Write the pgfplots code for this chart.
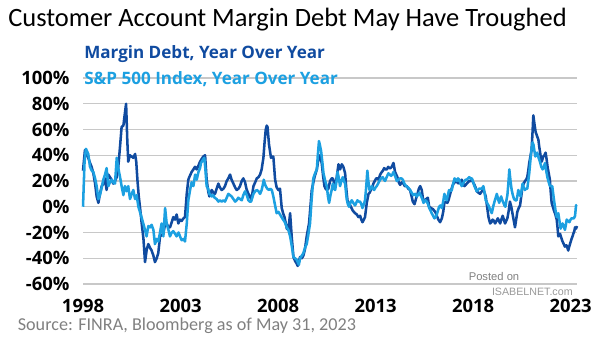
\documentclass[border=0pt]{standalone}
\usepackage{pgfplots}
\pgfplotsset{compat=1.18}
\usepackage{pgfplotstable}
\usepackage{fontspec}
\setmainfont{Carlito}
\newfontfamily\osans{Open Sans}
\newfontfamily\lsans{Liberation Sans}
\definecolor{darkb}{RGB}{16,75,160}
\definecolor{lightb}{RGB}{28,160,225}
\definecolor{gridc}{RGB}{200,200,200}
\definecolor{srcgray}{RGB}{128,128,128}

\pgfplotstableread{
x y
1998.00 28
1998.10 44
1998.20 40
1998.27 38
1998.36 34
1998.44 31
1998.53 26
1998.62 18
1998.70 8
1998.79 3
1998.87 10
1998.96 16
1999.05 18
1999.13 22
1999.21 13
1999.30 25
1999.38 23
1999.47 21
1999.55 18
1999.64 20
1999.73 23
1999.81 31
1999.90 47
1999.98 62
2000.07 63
2000.15 73
2000.21 80
2000.27 52
2000.32 35
2000.40 40
2000.50 39
2000.58 38
2000.67 41
2000.73 35
2000.79 21
2000.86 8
2000.92 0
2001.01 -13
2001.10 -25
2001.18 -43
2001.27 -33
2001.35 -29
2001.44 -32
2001.52 -34
2001.61 -38
2001.69 -43
2001.78 -40
2001.86 -36
2001.95 -23
2002.04 -22
2002.12 -21
2002.21 -13
2002.29 -13
2002.38 -16
2002.46 -16
2002.55 -12
2002.63 -8
2002.72 -10
2002.80 -6
2002.89 -13
2002.97 -10
2003.06 -11
2003.15 -9
2003.23 -8
2003.32 10
2003.40 21
2003.45 23
2003.57 27
2003.66 29
2003.74 31
2003.83 29
2003.92 32
2004.00 35
2004.08 37
2004.17 39
2004.26 40
2004.34 21
2004.42 12
2004.48 8
2004.60 13
2004.68 11
2004.77 10
2004.85 14
2004.94 18
2005.02 15
2005.11 13
2005.20 14
2005.28 16
2005.37 20
2005.45 22
2005.54 25
2005.62 21
2005.71 18
2005.80 15
2005.88 13
2005.97 14
2006.05 16
2006.14 20
2006.22 22
2006.31 19
2006.38 14
2006.48 10
2006.55 8
2006.62 6
2006.68 10
2006.74 16
2006.83 19
2006.91 22
2007.00 23
2007.08 25
2007.16 29
2007.25 38
2007.31 50
2007.37 60
2007.42 63
2007.46 62
2007.54 48
2007.60 42
2007.64 38
2007.70 39
2007.76 39
2007.85 21
2007.93 15
2008.02 13
2008.10 14
2008.19 -1
2008.26 -5
2008.33 -8
2008.40 -13
2008.45 -17
2008.53 -18
2008.62 -5
2008.70 -23
2008.79 -39
2008.87 -42
2008.95 -44
2009.01 -46
2009.08 -42
2009.13 -39
2009.22 -40
2009.30 -38
2009.38 -33
2009.47 -23
2009.53 -18
2009.59 -13
2009.66 0
2009.73 13
2009.80 18
2009.87 23
2009.93 26
2009.99 29
2010.05 35
2010.11 40
2010.17 38
2010.24 34
2010.31 24
2010.38 16
2010.44 14
2010.50 13
2010.58 14
2010.67 20
2010.75 22
2010.81 22
2010.87 19
2010.93 16
2011.01 23
2011.10 33
2011.18 29
2011.27 33
2011.35 31
2011.44 26
2011.50 14
2011.56 5
2011.63 3
2011.70 1
2011.77 -1
2011.83 -3
2011.89 -4
2011.95 -5
2012.04 -6
2012.12 -8
2012.21 -7
2012.27 -10
2012.33 -12
2012.40 -10
2012.46 -8
2012.55 3
2012.64 10
2012.70 11
2012.76 13
2012.83 15
2012.89 18
2012.96 20
2013.03 22
2013.09 22
2013.15 21
2013.24 25
2013.32 27
2013.38 28
2013.44 30
2013.51 29
2013.58 29
2013.65 31
2013.71 30
2013.77 30
2013.83 31
2013.92 34
2014.00 27
2014.06 25
2014.12 23
2014.19 19
2014.26 17
2014.35 19
2014.43 18
2014.50 16
2014.60 16
2014.68 14
2014.77 13
2014.85 8
2014.91 4
2015.00 2
2015.07 6
2015.15 10
2015.22 14
2015.29 16
2015.37 13
2015.45 4
2015.51 5
2015.60 6
2015.68 7
2015.75 0
2015.85 -1
2015.95 -2
2016.06 -4
2016.14 -7
2016.22 -10
2016.31 -12
2016.40 -9
2016.47 -4
2016.53 3
2016.60 4
2016.68 3
2016.74 5
2016.81 9
2016.88 13
2016.94 16
2017.00 18
2017.06 19
2017.12 20
2017.19 19
2017.25 18
2017.33 19
2017.42 21
2017.49 18
2017.56 16
2017.62 17
2017.68 18
2017.74 19
2017.80 20
2017.87 20
2017.94 21
2018.00 19
2018.07 17
2018.13 15
2018.19 12
2018.27 11
2018.36 10
2018.45 12
2018.53 13
2018.59 11
2018.65 8
2018.72 0
2018.79 -8
2018.84 -11
2018.88 -13
2018.94 -12
2019.00 -10
2019.07 -11
2019.13 -13
2019.20 -11
2019.27 -9
2019.33 -11
2019.39 -13
2019.45 -10
2019.52 -7
2019.58 -10
2019.64 -13
2019.70 -11
2019.76 -9
2019.83 -3
2019.89 4
2019.96 0
2020.03 -6
2020.09 -11
2020.15 -16
2020.21 -10
2020.27 -4
2020.34 -1
2020.41 1
2020.47 8
2020.54 16
2020.60 18
2020.66 20
2020.72 21
2020.78 23
2020.83 28
2020.88 34
2020.94 39
2021.00 44
2021.05 58
2021.09 71
2021.15 64
2021.21 58
2021.28 55
2021.35 52
2021.39 47
2021.43 43
2021.48 38
2021.52 35
2021.56 37
2021.60 39
2021.66 40
2021.72 42
2021.77 37
2021.82 31
2021.88 26
2021.94 21
2021.98 12
2022.03 3
2022.09 0
2022.15 -3
2022.22 -6
2022.29 -10
2022.33 -16
2022.37 -23
2022.42 -22
2022.46 -21
2022.52 -24
2022.59 -27
2022.65 -29
2022.71 -31
2022.76 -30
2022.80 -30
2022.84 -32
2022.88 -34
2022.93 -31
2022.97 -29
2023.01 -27
2023.05 -25
2023.10 -23
2023.14 -21
2023.19 -19
2023.23 -16
2023.28 -17
2023.33 -15
}\margindebt

\pgfplotstableread{
x y
1998.00 0
1998.08 35
1998.15 45
1998.21 43
1998.27 41
1998.36 31
1998.45 28
1998.53 27
1998.62 22
1998.70 16
1998.79 6
1998.87 9
1998.96 15
1999.04 21
1999.13 25
1999.21 30
1999.30 16
1999.38 19
1999.47 21
1999.55 19
1999.64 18
1999.73 38
1999.81 30
1999.90 23
1999.98 16
2000.07 9
2000.15 16
2000.24 12
2000.32 16
2000.41 6
2000.50 10
2000.58 13
2000.67 6
2000.75 9
2000.84 0
2000.92 -4
2001.00 -8
2001.09 -13
2001.18 -18
2001.26 -23
2001.35 -15
2001.44 -16
2001.52 -14
2001.61 -18
2001.69 -29
2001.78 -25
2001.86 -27
2001.95 -20
2002.03 -13
2002.12 -23
2002.21 -1
2002.29 -13
2002.38 -18
2002.46 -23
2002.55 -20
2002.63 -19
2002.72 -21
2002.80 -23
2002.90 -20
2003.00 -24
2003.06 -26
2003.15 -25
2003.23 -27
2003.32 -13
2003.40 5
2003.49 13
2003.57 19
2003.66 16
2003.75 25
2003.83 21
2003.92 27
2004.00 30
2004.05 34
2004.13 36
2004.22 38
2004.27 30
2004.34 16
2004.42 14
2004.48 10
2004.55 9
2004.60 8
2004.68 9
2004.75 7
2004.85 6
2004.94 4
2005.02 5
2005.11 4
2005.20 5
2005.28 4
2005.37 7
2005.45 10
2005.54 9
2005.62 8
2005.71 6
2005.80 4
2005.88 5
2005.96 7
2006.05 6
2006.14 5
2006.22 9
2006.31 12
2006.40 9
2006.48 5
2006.55 4
2006.62 4
2006.68 7
2006.74 10
2006.83 12
2006.91 13
2007.00 12
2007.08 10
2007.16 13
2007.22 17
2007.27 21
2007.32 18
2007.37 16
2007.45 14
2007.54 13
2007.60 14
2007.68 13
2007.76 8
2007.85 1
2007.93 -5
2008.02 -4
2008.10 -6
2008.18 -8
2008.26 -10
2008.35 -12
2008.45 -16
2008.53 -18
2008.62 -23
2008.70 -30
2008.79 -39
2008.87 -40
2008.95 -41
2009.01 -43
2009.07 -45
2009.13 -40
2009.22 -38
2009.30 -36
2009.38 -32
2009.47 -29
2009.55 -22
2009.64 -13
2009.72 5
2009.81 22
2009.90 26
2009.99 29
2010.04 40
2010.10 51
2010.16 47
2010.21 43
2010.27 35
2010.33 26
2010.42 20
2010.50 16
2010.56 8
2010.62 3
2010.69 9
2010.75 13
2010.81 18
2010.87 14
2010.93 13
2011.00 20
2011.05 27
2011.12 22
2011.18 16
2011.25 20
2011.32 23
2011.38 20
2011.44 18
2011.52 6
2011.58 2
2011.64 0
2011.71 3
2011.78 5
2011.86 3
2011.95 1
2012.01 3
2012.07 5
2012.14 4
2012.21 4
2012.27 2
2012.33 -1
2012.40 2
2012.46 5
2012.52 15
2012.58 28
2012.63 20
2012.69 13
2012.75 14
2012.81 16
2012.87 14
2012.93 13
2013.00 15
2013.06 16
2013.13 18
2013.20 20
2013.28 22
2013.37 23
2013.43 21
2013.49 20
2013.57 23
2013.66 26
2013.73 25
2013.80 24
2013.86 25
2013.92 27
2014.00 24
2014.09 20
2014.17 21
2014.26 22
2014.33 22
2014.40 21
2014.48 18
2014.57 16
2014.67 15
2014.77 13
2014.85 11
2014.94 9
2015.03 10
2015.11 8
2015.17 9
2015.25 11
2015.34 8
2015.40 6
2015.46 3
2015.55 5
2015.63 4
2015.69 2
2015.75 -1
2015.82 -3
2015.88 -5
2015.95 -7
2016.02 -9
2016.08 -8
2016.14 -6
2016.20 -3
2016.26 0
2016.33 1
2016.40 -1
2016.47 4
2016.53 10
2016.59 7
2016.65 5
2016.71 9
2016.77 13
2016.84 12
2016.91 13
2016.98 18
2017.05 22
2017.11 21
2017.17 20
2017.23 22
2017.29 21
2017.36 18
2017.42 16
2017.49 18
2017.56 20
2017.62 21
2017.68 21
2017.74 22
2017.80 23
2017.87 22
2017.94 22
2018.01 19
2018.07 16
2018.13 14
2018.19 12
2018.25 13
2018.31 14
2018.38 14
2018.45 14
2018.53 16
2018.59 11
2018.65 5
2018.72 3
2018.79 1
2018.87 -2
2018.96 -5
2019.03 0
2019.10 4
2019.16 7
2019.22 10
2019.28 6
2019.34 3
2019.39 6
2019.44 8
2019.50 5
2019.56 3
2019.61 1
2019.66 0
2019.71 5
2019.76 9
2019.81 18
2019.86 29
2019.92 20
2019.98 13
2020.04 9
2020.10 6
2020.17 5
2020.23 5
2020.28 9
2020.32 13
2020.38 10
2020.44 8
2020.49 13
2020.54 18
2020.60 15
2020.66 13
2020.72 14
2020.78 14
2020.83 20
2020.88 26
2020.94 36
2021.00 45
2021.05 50
2021.10 48
2021.14 44
2021.19 39
2021.24 41
2021.29 42
2021.36 38
2021.43 35
2021.50 31
2021.57 29
2021.63 31
2021.69 34
2021.75 28
2021.81 23
2021.88 19
2021.94 16
2022.00 16
2022.06 16
2022.11 10
2022.17 3
2022.23 -3
2022.29 -8
2022.33 -7
2022.37 -5
2022.43 -11
2022.49 -17
2022.54 -15
2022.59 -13
2022.65 -15
2022.71 -18
2022.76 -14
2022.80 -10
2022.87 -11
2022.94 -12
2023.00 -10
2023.05 -9
2023.11 -9
2023.17 -9
2023.23 -7
2023.28 1
2023.33 1.5
}\spx

\begin{document}
\begin{tikzpicture}
\path[use as bounding box] (0,0) rectangle (453.75pt,255.75pt);
\begin{axis}[
  at={(62.25pt,42.75pt)}, anchor=south west,
  scale only axis, width=370.5pt, height=154.5pt,
  xmin=1998, xmax=2023.33, ymin=-60, ymax=100,
  axis line style={draw=none},
  major tick length=0pt,
  xtick={1998,2003,2008,2013,2018,2023},
  xticklabels={1998,2003,2008,2013,2018,2023},
  ytick={-60,-40,-20,0,20,40,60,80,100},
  yticklabels={-60\%,-40\%,-20\%,0\%,20\%,40\%,60\%,80\%,100\%},
  ymajorgrids, major grid style={draw=gridc, line width=1.1pt},
  ticklabel style={font=\osans\bfseries\fontsize{13.8}{15}\selectfont, text=black},
  yticklabel style={inner sep=0pt, anchor=east, xshift=-10pt},
  xticklabel style={inner sep=0pt, anchor=north, yshift=-11.5pt},
  clip=false,
]
\addplot[darkb, line width=1.9pt, line join=round] table[x=x,y=y] {\margindebt};
\addplot[lightb, line width=1.9pt, line join=round] table[x=x,y=y] {\spx};
\end{axis}
\node[anchor=base west, inner sep=0pt, font=\fontsize{19.85}{24}\selectfont] at (6pt,235.5pt) {Customer Account Margin Debt May Have Troughed};
\node[anchor=base west, inner sep=0pt, font=\osans\bfseries\fontsize{12.8}{14}\selectfont, text=darkb] at (63pt,211.5pt) {Margin Debt, Year Over Year};
\node[anchor=base west, inner sep=0pt, font=\osans\bfseries\fontsize{12.8}{14}\selectfont, text=lightb] at (63pt,192pt) {S\&P 500 Index, Year Over Year};
\node[anchor=base west, inner sep=0pt, font=\fontsize{13.6}{15}\selectfont, text=srcgray] at (13.2pt,7.5pt) {Source: FINRA, Bloomberg as of May 31, 2023};
\node[anchor=base, inner sep=0pt, font=\lsans\fontsize{8.4}{10}\selectfont, text=gray] at (370.5pt,45.2pt) {Posted on};
\node[anchor=base west, inner sep=0pt, font=\lsans\fontsize{8}{10}\selectfont, text=gray!80] at (368.8pt,33.75pt) {ISABELNET.com};
\end{tikzpicture}
\end{document}
